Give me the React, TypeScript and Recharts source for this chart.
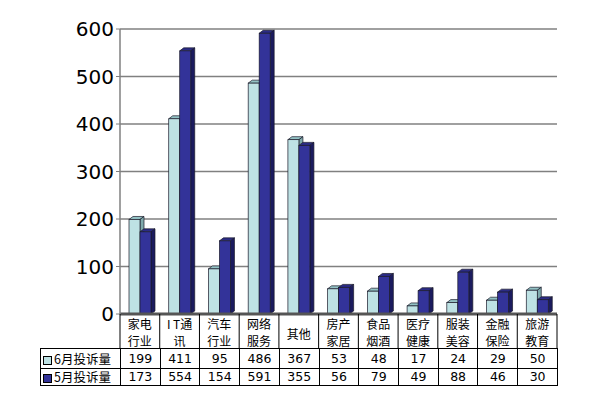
import React from 'react';
import { BarChart, Bar, XAxis, YAxis, CartesianGrid } from 'recharts';

const categories = ['家电行业', 'I T通讯', '汽车行业', '网络服务', '其他', '房产家居', '食品烟酒', '医疗健康', '服装美容', '金融保险', '旅游教育'];
const categoryLines = [['家电', '行业'], ['I T通', '讯'], ['汽车', '行业'], ['网络', '服务'], ['其他'], ['房产', '家居'], ['食品', '烟酒'], ['医疗', '健康'], ['服装', '美容'], ['金融', '保险'], ['旅游', '教育']];
const juneValues = [199, 411, 95, 486, 367, 53, 48, 17, 24, 29, 50];
const mayValues = [173, 554, 154, 591, 355, 56, 79, 49, 88, 46, 30];
const yTicks = [0, 100, 200, 300, 400, 500, 600];

const series = [
  { key: 'june', name: '6月投诉量', values: juneValues, color: '#BEE2E4', top: '#93C2C4', side: '#7FAAAC' },
  { key: 'may', name: '5月投诉量', values: mayValues, color: '#333399', top: '#2B2B85', side: '#1B1B5E' },
];

const data = categories.map((c, i) => ({ name: c, june: juneValues[i], may: mayValues[i] }));

const PLOT_LEFT = 120;
const PLOT_RIGHT = 557;
const PLOT_BOTTOM = 314;
const COL_W = (PLOT_RIGHT - PLOT_LEFT) / categories.length;

const Bar3D = (props: any) => {
  const { x, y, width, height, fill, top, side } = props;
  if (height == null || width == null) return null;
  const d = 4, e = 3;
  return (
    <g stroke="#1a1a2a" strokeWidth={0.7}>
      <path d={`M${x},${y} L${x + d},${y - e} L${x + width + d},${y - e} L${x + width},${y} Z`} fill={top} />
      <path d={`M${x + width},${y} L${x + width + d},${y - e} L${x + width + d},${y + height - e} L${x + width},${y + height} Z`} fill={side} />
      <rect x={x} y={y} width={width} height={height} fill={fill} />
    </g>
  );
};

// category names sit in the top row of the data table
const CategoryTick = (props: any) => {
  const { x, payload } = props;
  const lines = categoryLines[payload.index] || [payload.value];
  const half = COL_W / 2;
  const base = lines.length === 1 ? [PLOT_BOTTOM + 25] : [PLOT_BOTTOM + 15, PLOT_BOTTOM + 32];
  return (
    <g>
      <line x1={x - half} y1={PLOT_BOTTOM} x2={x - half} y2={348} stroke="#000" strokeWidth={1} />
      {payload.index === categories.length - 1 && (
        <line x1={x + half} y1={PLOT_BOTTOM} x2={x + half} y2={348} stroke="#000" strokeWidth={1} />
      )}
      {lines.map((l: string, i: number) => (
        <text key={i} x={x} y={base[i]} textAnchor="middle" fontSize={12} fill="#000"
          fontFamily="'Noto Sans CJK SC', sans-serif">{l}</text>
      ))}
    </g>
  );
};

const cellStyle: React.CSSProperties = {
  border: '1px solid #000',
  padding: 0,
  textAlign: 'center',
  fontSize: 12.5,
  lineHeight: '14px',
  fontFamily: "'DejaVu Sans', sans-serif",
  overflow: 'hidden',
  whiteSpace: 'nowrap',
};

export default function App() {
  return (
    <div style={{ position: 'absolute', left: 0, top: 0, width: 600, height: 400, background: '#fff' }}>
      <BarChart width={600} height={400} data={data} barGap={0} barSize={11}
        margin={{ top: 29, right: 600 - PLOT_RIGHT, left: 0, bottom: 52 }}>
        <CartesianGrid vertical={false} stroke="#808080" strokeWidth={1.5} />
        <XAxis dataKey="name" height={34} interval={0} tickLine={false} tick={<CategoryTick />}
          axisLine={{ stroke: '#555', strokeWidth: 3 }} />
        <YAxis domain={[0, 600]} ticks={yTicks} width={PLOT_LEFT} tickSize={4} tickMargin={2}
          axisLine={{ stroke: '#808080', strokeWidth: 1.5 }} tickLine={{ stroke: '#808080' }}
          tick={{ fontSize: 20, fill: '#000', fontFamily: "'DejaVu Sans', sans-serif" }} />
        <YAxis yAxisId="right" orientation="right" width={0} tick={false} tickLine={false}
          axisLine={{ stroke: '#808080', strokeWidth: 1.5 }} domain={[0, 600]} />
        {series.map(s => (
          <Bar key={s.key} dataKey={s.key} name={s.name} fill={s.color} isAnimationActive={false}
            shape={(p: any) => <Bar3D {...p} fill={s.color} top={s.top} side={s.side} />} />
        ))}
      </BarChart>
      <table style={{ position: 'absolute', left: 40, top: 348, width: PLOT_RIGHT - 40 + 1, borderCollapse: 'collapse', tableLayout: 'fixed' }}>
        <colgroup>
          <col style={{ width: PLOT_LEFT - 40 }} />
          {categories.map(c => <col key={c} style={{ width: COL_W }} />)}
        </colgroup>
        <tbody>
          {series.map((s, ri) => (
            <tr key={s.key} style={{ height: ri === 0 ? 20 : 17 }}>
              <td style={{ ...cellStyle, textAlign: 'left', fontFamily: "'Noto Sans CJK SC', sans-serif", fontSize: 12.5, paddingLeft: 2 }}>
                <span style={{ display: 'inline-block', width: 7, height: 7, background: s.color, border: '1px solid #000', marginRight: 2, verticalAlign: 'middle' }} />
                {s.name}
              </td>
              {s.values.map((v, i) => <td key={i} style={cellStyle}>{v}</td>)}
            </tr>
          ))}
        </tbody>
      </table>
    </div>
  );
}
